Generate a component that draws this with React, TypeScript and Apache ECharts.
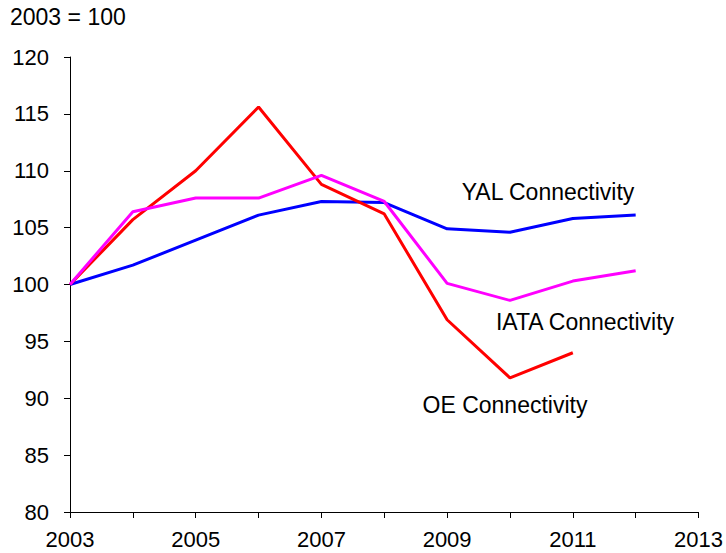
import React, { useEffect, useRef } from "react";
import * as echarts from "echarts";

const years = [2003, 2004, 2005, 2006, 2007, 2008, 2009, 2010, 2011, 2012];
const yalValues = [100, 101.7, 103.9, 106.1, 107.3, 107.2, 104.9, 104.6, 105.8, 106.1];
const iataValues = [100, 106.4, 107.6, 107.6, 109.6, 107.3, 100.1, 98.6, 100.3, 101.2];
const oeValues = [100, 105.7, 110.0, 115.6, 108.8, 106.2, 96.9, 91.8, 94.0, null];
const seriesNames = ["YAL Connectivity", "IATA Connectivity", "OE Connectivity"];
const yTicks = { min: 80, max: 120, interval: 5 };
const xTicks = { min: 2003, max: 2013, interval: 1 };

const toPairs = (vals: (number | null)[]) =>
  years.map((y, i) => [y, vals[i]]).filter((p) => p[1] !== null);

export default function App() {
  const ref = useRef<HTMLDivElement>(null);
  useEffect(() => {
    if (!ref.current) return;
    const chart = echarts.init(ref.current, undefined, { renderer: "svg" });
    const font = "Liberation Sans, Arial, sans-serif";
    const annot = (text: string, x: number, y: number) => ({
      type: "text",
      x,
      y,
      style: {
        text,
        fontSize: 23,
        fontFamily: font,
        fill: "#000",
        align: "center",
        verticalAlign: "middle",
      },
    });
    chart.setOption({
      animation: false,
      grid: { left: 70, right: 27, top: 57, bottom: 41 },
      xAxis: {
        type: "value",
        min: xTicks.min,
        max: xTicks.max,
        interval: xTicks.interval,
        splitLine: { show: false },
        axisLine: { show: true, lineStyle: { color: "#000", width: 1 } },
        axisTick: { show: true, length: 6, lineStyle: { color: "#000" } },
        axisLabel: {
          color: "#000",
          fontSize: 22,
          fontFamily: font,
          margin: 16,
          formatter: (v: number) => ((v - 2003) % 2 === 0 ? String(v) : ""),
        },
      },
      yAxis: {
        type: "value",
        min: yTicks.min,
        max: yTicks.max,
        interval: yTicks.interval,
        splitLine: { show: false },
        axisLine: { show: true, lineStyle: { color: "#000", width: 1 } },
        axisTick: { show: true, length: 6, lineStyle: { color: "#000" } },
        axisLabel: { color: "#000", fontSize: 22, fontFamily: font, margin: 21 },
      },
      series: [
        {
          name: seriesNames[0],
          type: "line",
          data: toPairs(yalValues),
          symbol: "none",
          lineStyle: { color: "#0000FF", width: 3 },
          z: 2,
        },
        {
          name: seriesNames[2],
          type: "line",
          data: toPairs(oeValues),
          symbol: "none",
          lineStyle: { color: "#FF0000", width: 3 },
          z: 3,
        },
        {
          name: seriesNames[1],
          type: "line",
          data: toPairs(iataValues),
          symbol: "none",
          lineStyle: { color: "#FF00FF", width: 3 },
          z: 4,
        },
      ],
      graphic: [
        {
          type: "text",
          left: 10,
          top: 5,
          style: { text: "2003 = 100", fontSize: 23, fontFamily: font, fill: "#000" },
        },
        annot(seriesNames[0], 548, 192),
        annot(seriesNames[1], 585, 322),
        annot(seriesNames[2], 505, 405),
      ],
    });
    return () => chart.dispose();
  }, []);
  return <div ref={ref} style={{ width: 726, height: 553, position: "absolute", left: 0, top: 0 }} />;
}
